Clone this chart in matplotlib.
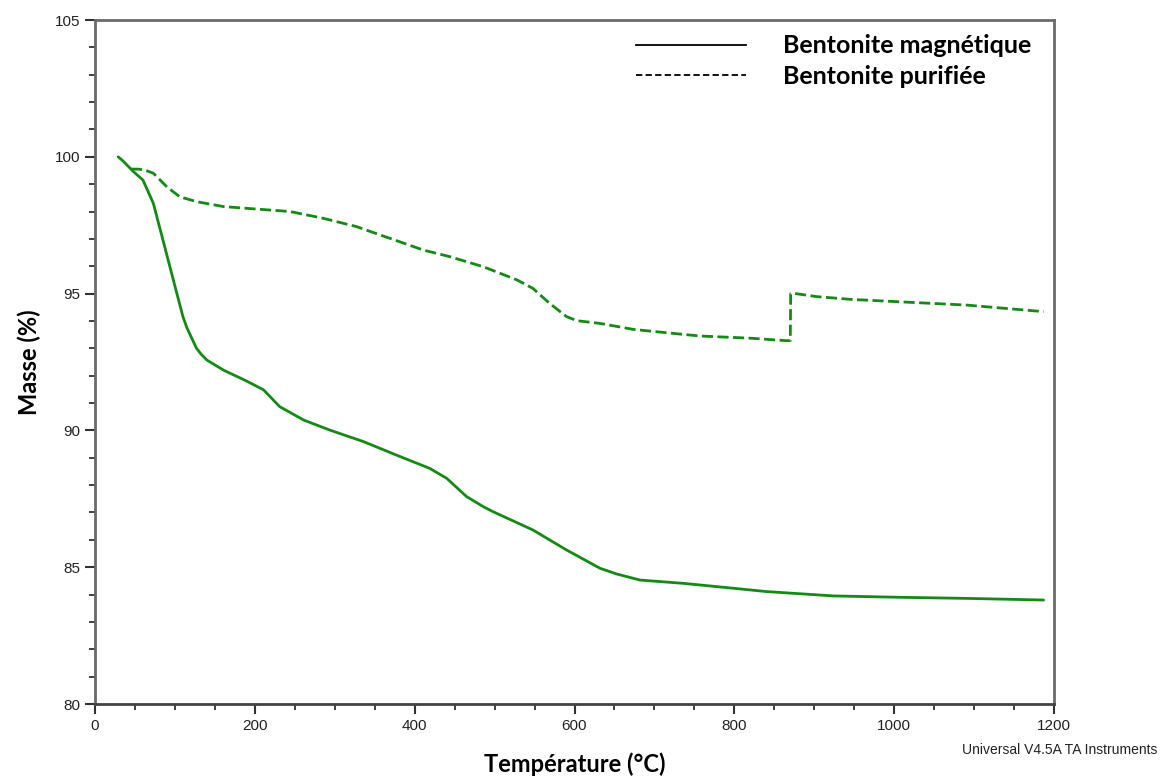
import matplotlib
matplotlib.use("Agg")
import matplotlib.pyplot as plt
from matplotlib.lines import Line2D
from matplotlib.ticker import MultipleLocator

# Bentonite magnetique (solid)
temp_mag = [29, 35, 48, 60, 73, 85, 98, 110, 115, 127, 133, 140, 161, 190, 211,
            231, 261, 294, 336, 377, 419, 440, 465, 486, 498, 548, 590, 632, 653,
            682, 736, 799, 840, 924, 1007, 1091, 1187]
mass_mag = [100.0, 99.85, 99.46, 99.15, 98.3, 96.96, 95.5, 94.16, 93.75, 93.0,
            92.78, 92.57, 92.2, 91.8, 91.48, 90.87, 90.38, 90.01, 89.59, 89.10,
            88.61, 88.25, 87.58, 87.21, 87.03, 86.36, 85.63, 84.96, 84.75, 84.53,
            84.41, 84.23, 84.11, 83.95, 83.90, 83.86, 83.80]

# Bentonite purifiee (dashed)
temp_pur = [45, 54, 62, 73, 90, 106, 127, 161, 202, 244, 286, 327, 369, 411, 444,
            486, 528, 548, 569, 590, 603, 632, 674, 715, 757, 820, 865, 870,
            870.5, 874, 903, 945, 1007, 1091, 1187]
mass_pur = [99.55, 99.55, 99.52, 99.4, 98.9, 98.54, 98.36, 98.18, 98.09, 98.0,
            97.75, 97.45, 97.02, 96.59, 96.35, 95.98, 95.50, 95.19, 94.64, 94.16,
            94.01, 93.91, 93.69, 93.57, 93.45, 93.37, 93.28, 93.28, 95.0, 95.01,
            94.89, 94.79, 94.70, 94.58, 94.34]

labels = ["Bentonite magnétique", "Bentonite purifiée"]
green = "#138a13"

fig = plt.figure(figsize=(11.63, 7.78), dpi=100)
ax = fig.add_axes([95 / 1163, 1 - 704 / 778, (1054 - 95) / 1163, (704 - 20) / 778])

ax.plot(temp_mag, mass_mag, color=green, lw=2.0, solid_capstyle="round",
        solid_joinstyle="round")
ax.plot(temp_pur, mass_pur, color=green, lw=2.0, linestyle=(0, (4, 1.6)))

ax.set_xlim(0, 1200)
ax.set_ylim(80, 105)
ax.xaxis.set_major_locator(MultipleLocator(200))
ax.xaxis.set_minor_locator(MultipleLocator(50))
ax.yaxis.set_major_locator(MultipleLocator(5))
ax.yaxis.set_minor_locator(MultipleLocator(1))
ax.tick_params(which="major", direction="out", length=7, width=1.5, color="#333333",
               labelsize=11, labelcolor="#222222")
ax.tick_params(which="minor", direction="out", length=4, width=1.3, color="#333333")
for lab in ax.get_xticklabels() + ax.get_yticklabels():
    lab.set_family("Liberation Sans")

for side in ["left", "bottom", "top", "right"]:
    ax.spines[side].set_color("#6a6a6a")
    ax.spines[side].set_linewidth(2.0)
ax.spines["bottom"].set_color("#444444")

ax.set_xlabel("Température (°C)", fontsize=17, fontweight="bold", family="Lato",
              labelpad=14)
ax.set_ylabel("Masse (%)", fontsize=17, fontweight="bold", family="Lato", labelpad=10)

handles = [Line2D([], [], color="black", lw=1.3),
           Line2D([], [], color="black", lw=1.3, linestyle=(0, (3.5, 1.8)))]
ax.legend(handles, labels, loc="upper right", bbox_to_anchor=(1.0, 1.012),
          frameon=False, handlelength=4.4, handletextpad=1.5, labelspacing=0.3,
          prop={"family": "Lato", "weight": "bold", "size": 18})

fig.text(1157 / 1163, 1 - 750 / 778, "Universal V4.5A TA Instruments", ha="right",
         va="center", fontsize=10, family="Liberation Sans", color="#222222")

fig.savefig("out.png", dpi=100)
